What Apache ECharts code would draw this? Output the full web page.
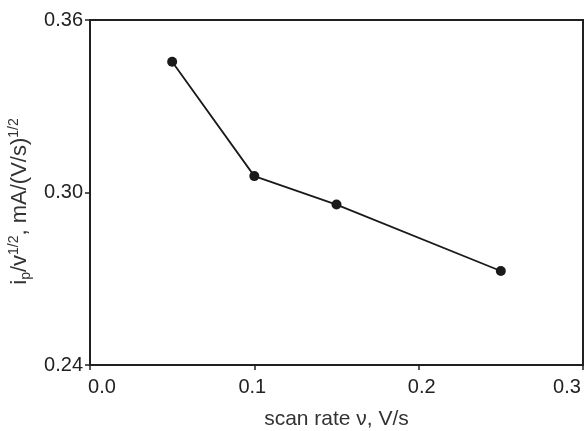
<!DOCTYPE html>
<html>
<head>
<meta charset="utf-8">
<script src="https://cdn.jsdelivr.net/npm/echarts@6/dist/echarts.min.js"></script>
<style>html,body{margin:0;padding:0;background:#fff}#c{width:587px;height:431px}</style>
</head>
<body>
<div id="c"></div>
<script>
var scanRate = [0.05, 0.10, 0.15, 0.25];
var ipNorm = [0.3455, 0.3057, 0.2958, 0.2727];
var xTicks = [0.0, 0.1, 0.2, 0.3];
var yTicks = [0.24, 0.30, 0.36];

var chart = echarts.init(document.getElementById('c'), null, {renderer: 'canvas'});
var font = 'Liberation Sans, Arial, sans-serif';
var axisColor = '#231f20';
function lbl(extra) {
  var s = {fontFamily: font, fontSize: 20, color: '#222'};
  for (var k in extra) s[k] = extra[k];
  return s;
}
var xStyles = ['t0', 't1', 't2', 't3'];
chart.setOption({
  animation: false,
  grid: {left: 90, right: 4, top: 20, bottom: 66, outerBoundsMode: 'none', containLabel: false,
    show: true, borderColor: axisColor, borderWidth: 2, backgroundColor: 'transparent'},
  xAxis: {
    type: 'value', min: xTicks[0], max: xTicks[xTicks.length - 1], interval: 0.1,
    name: 'scan rate ν, V/s', nameLocation: 'middle', nameGap: 44,
    nameTextStyle: {fontFamily: font, fontSize: 21, color: '#333'},
    axisLine: {show: true, lineStyle: {color: axisColor, width: 2}},
    axisTick: {show: true, length: 5, lineStyle: {color: axisColor, width: 1.5}},
    axisLabel: {fontFamily: font, fontSize: 20, color: '#222', margin: 12,
      formatter: function (v) {
        var i = Math.round(v * 10);
        return '{' + xStyles[i] + '|' + v.toFixed(1) + '}';
      },
      rich: {
        t0: lbl({padding: [0, 0, 0, 24]}),
        t1: lbl({padding: [0, 4, 0, 0]}),
        t2: lbl({padding: [0, 0, 0, 6]}),
        t3: lbl({padding: [0, 32, 0, 0]})
      }},
    splitLine: {show: false}
  },
  yAxis: {
    type: 'value', min: yTicks[0], max: yTicks[yTicks.length - 1], interval: 0.06,
    name: 'i{sub|p}/v{sup|1/2}, mA/(V/s){sup|1/2}', nameLocation: 'middle', nameGap: 57,
    nameRotate: 90,
    nameTextStyle: {fontFamily: font, fontSize: 22, color: '#333', lineHeight: 26,
      padding: [0, 18, 0, 0],
      rich: {
        sub: {fontFamily: font, fontSize: 14, color: '#333', verticalAlign: 'bottom', lineHeight: 26},
        sup: {fontFamily: font, fontSize: 14, color: '#333', verticalAlign: 'top', lineHeight: 26}
      }},
    axisLine: {show: true, lineStyle: {color: axisColor, width: 2}},
    axisTick: {show: true, length: 5, lineStyle: {color: axisColor, width: 1.5}},
    axisLabel: {fontFamily: font, fontSize: 20, color: '#222', margin: 7,
      formatter: function (v) { return v.toFixed(2); }},
    splitLine: {show: false}
  },
  series: [{
    type: 'line',
    data: scanRate.map(function (x, i) { return [x, ipNorm[i]]; }),
    symbol: 'circle', symbolSize: 10,
    itemStyle: {color: '#1a1a1a'},
    lineStyle: {color: '#1a1a1a', width: 1.8}
  }]
});
</script>
</body>
</html>
